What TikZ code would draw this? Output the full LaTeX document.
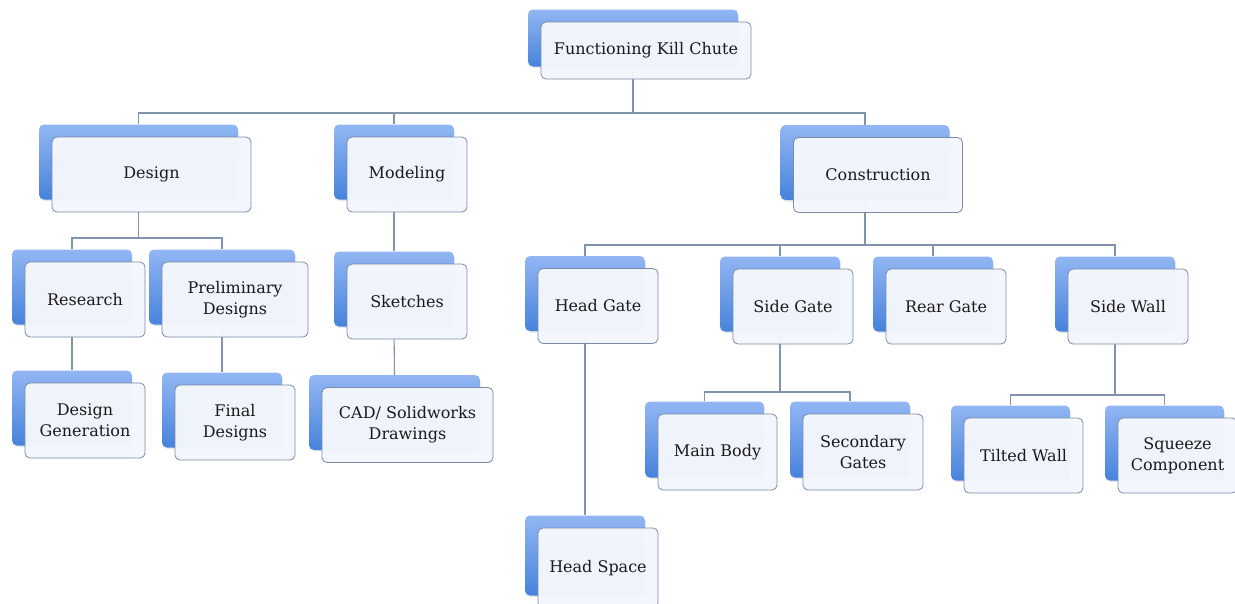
\documentclass[tikz,border=0pt]{standalone}
\usepackage{fontspec}
\setmainfont{DejaVu Serif}
\usetikzlibrary{shadows}

\definecolor{backtop}{HTML}{92B6F3}
\definecolor{backbot}{HTML}{4683DC}
\definecolor{frontfill}{HTML}{F3F6FC}
\definecolor{frontline}{HTML}{7B8AA5}
\definecolor{linkcol}{HTML}{8193AF}
\definecolor{textcol}{HTML}{1A1A1A}

\tikzset{
  backbox/.style={rectangle, rounded corners=5pt, top color=backtop,
    bottom color=backbot, draw=none, inner sep=0pt,
    drop shadow={opacity=0.18, shadow xshift=0.5pt, shadow yshift=-1.5pt}},
  frontbox/.style={rectangle, rounded corners=5pt, draw=frontline,
    line width=0.8pt, fill=frontfill, fill opacity=0.975, text opacity=1,
    text=textcol, align=center, inner sep=0pt,
    font=\fontsize{16}{21}\selectfont},
  link/.style={draw=linkcol, line width=1.1pt},
}

% name / centre x / centre y / width / height / label
\def\kclist{%
  root/646/50.5/210/57/{Functioning Kill Chute},
  design/151.5/174.5/199/75/{Design},
  modeling/407/174.5/120/75/{Modeling},
  construction/878/175/169/75/{Construction},
  research/85/299.5/120/75/{Research},
  prelim/235/299.5/146/75/{Preliminary\\Designs},
  designgen/85/420.5/120/75/{Design\\Generation},
  final/235/422.5/120/75/{Final\\Designs},
  sketches/407/301.5/120/75/{Sketches},
  cad/407.5/425/171/75/{CAD/ Solidworks\\Drawings},
  headgate/598/306/120/75/{Head Gate},
  sidegate/793/306.5/120/75/{Side Gate},
  reargate/946/306.5/120/75/{Rear Gate},
  sidewall/1128/306.5/120/75/{Side Wall},
  headspace/598/568/120/80/{Head Space},
  mainbody/717.5/452/119/76/{Main Body},
  secondary/863/452/120/76/{Secondary\\Gates},
  tilted/1023.5/455.5/119/75/{Tilted Wall},
  squeeze/1177.5/455.5/119/75/{Squeeze\\Component}%
}

\begin{document}
\begin{tikzpicture}[x=1pt, y=-1pt]
\useasboundingbox (0,0) rectangle (1235,603);
\begin{scope}
\clip (0,0) rectangle (1235,603);

% blue back plates
\foreach \n/\x/\y/\w/\h/\t in \kclist {
  \node[backbox, minimum width=\w pt, minimum height=\h pt] (\n) at (\x-13,\y-12.5) {};
}

% bus lines
\coordinate (busA) at (0,113);
\coordinate (busB) at (0,238);
\coordinate (busC) at (0,245);
\coordinate (busD) at (0,392);
\coordinate (busE) at (0,395);

% connectors
\foreach \c in {design,modeling,construction}
  \draw[link] (root.south) -- (root.south |- busA) -| (\c.north);
\foreach \c in {research,prelim}
  \draw[link] (design.south) -- (design.south |- busB) -| (\c.north);
\foreach \c in {headgate,sidegate,reargate,sidewall}
  \draw[link] (construction.south) -- (construction.south |- busC) -| (\c.north);
\foreach \c in {mainbody,secondary}
  \draw[link] (sidegate.south) -- (sidegate.south |- busD) -| (\c.north);
\foreach \c in {tilted,squeeze}
  \draw[link] (sidewall.south) -- (sidewall.south |- busE) -| (\c.north);
\draw[link] (research.south) -- (designgen.north);
\draw[link] (prelim.south) -- (final.north);
\draw[link] (modeling.south) -- (sketches.north);
\draw[link] (sketches.south) -- (cad.north);
\draw[link] (headgate.south) -- (headspace.north);

% white front cards with labels
\foreach \n/\x/\y/\w/\h/\t in \kclist {
  \node[frontbox, minimum width=\w pt, minimum height=\h pt] (\n-f) at (\x,\y) {\t};
}
\end{scope}
\end{tikzpicture}
\end{document}
